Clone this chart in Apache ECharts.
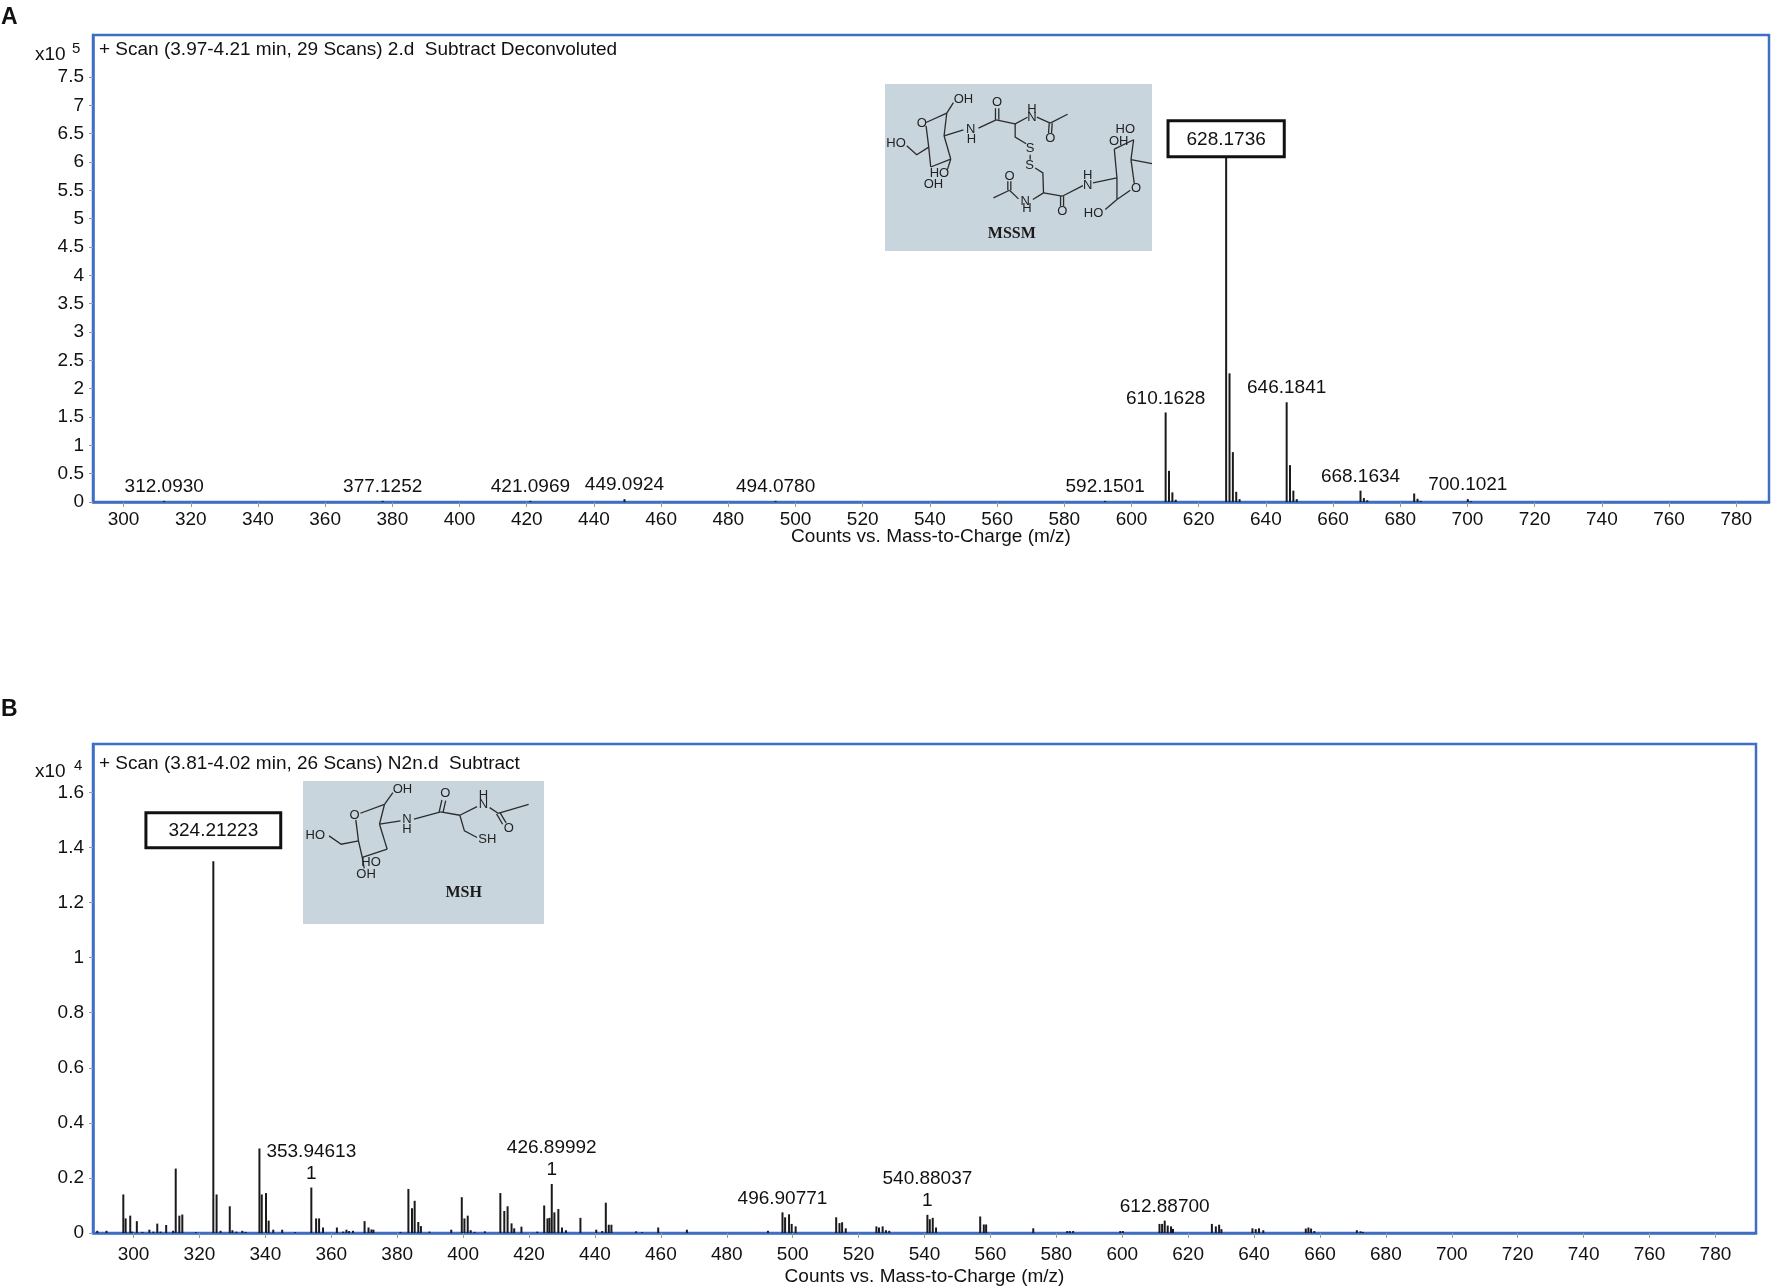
<!DOCTYPE html>
<html><head><meta charset="utf-8">
<script src="https://cdn.jsdelivr.net/npm/echarts@6.0.0/dist/echarts.min.js"></script>
<style>html,body{margin:0;padding:0;background:#fff}#c{width:1772px;height:1286px}</style>
</head><body><div id="c"></div>
<script>
// ---------- tick labels ----------
const xTicks = [300,320,340,360,380,400,420,440,460,480,500,520,540,560,580,600,620,640,660,680,700,720,740,760,780];
const yTicksA = [0,0.5,1,1.5,2,2.5,3,3.5,4,4.5,5,5.5,6,6.5,7,7.5];
const yTicksB = [0,0.2,0.4,0.6,0.8,1,1.2,1.4,1.6];

// ---------- panel A: MSSM (counts x10^5) ----------
const mzA  = [312.0930,377.1252,421.0969,449.0924,494.0780,592.1501,610.1628,611.166,612.168,613.17,628.1736,629.177,630.172,631.175,632.17,646.1841,647.187,648.18,649.18,668.1634,669.166,670.17,684.14,685.14,686.1,700.1021,701.1];
const intA = [0.02,0.02,0.02,0.05,0.02,0.02,1.58,0.55,0.17,0.04,6.12,2.27,0.88,0.18,0.05,1.76,0.65,0.2,0.05,0.2,0.07,0.03,0.15,0.057,0.02,0.05,0.015];
const labeledA = [312.0930,377.1252,421.0969,449.0924,494.0780,592.1501,610.1628,646.1841,668.1634,700.1021];
const boxedA = 628.1736;

// ---------- panel B: MSH (counts x10^4) ----------
const mzB  = [289.0,291.8,296.9,297.6,299.0,299.6,301.0,302.7,304.8,306.0,307.2,308.2,309.9,312.0,312.8,313.9,314.8,318.9,324.21223,325.2,326.4,329.2,330.0,331.2,333.0,334.0,338.2,338.9,340.2,341.0,342.4,345.1,349.0,353.94613,355.4,356.3,357.5,361.7,363.6,364.6,365.4,366.6,370.1,371.3,372.2,372.8,381.0,383.4,384.5,385.3,386.4,387.2,389.8,396.4,399.6,400.4,401.4,402.3,403.5,406.6,411.3,412.5,413.5,414.7,415.5,417.7,422.5,424.6,425.6,426.2,426.89992,427.7,428.9,430.0,431.2,435.6,440.4,442.2,443.3,444.2,445.0,452.5,454.3,459.2,467.9,492.5,496.90771,497.7,498.9,499.7,500.9,513.2,514.2,515.0,516.1,525.4,526.2,527.3,528.3,529.3,540.88037,541.6,542.5,543.5,556.9,558.0,558.7,573.0,583.3,584.1,585.1,599.4,600.2,611.3,612.1,612.887,613.8,614.8,615.4,627.2,628.4,629.4,630.1,639.5,640.5,641.5,642.8,655.7,656.5,657.3,658.3,671.2,672.3,673.0];
const intB = [0.008,0.008,0.14,0.053,0.063,0.005,0.043,0.004,0.012,0.005,0.034,0.005,0.029,0.008,0.234,0.063,0.067,0.003,1.35,0.14,0.008,0.097,0.01,0.005,0.008,0.004,0.307,0.14,0.145,0.045,0.012,0.012,0.003,0.165,0.053,0.053,0.02,0.02,0.005,0.012,0.007,0.008,0.043,0.02,0.013,0.012,0.004,0.16,0.09,0.117,0.04,0.025,0.005,0.012,0.13,0.053,0.063,0.01,0.004,0.006,0.145,0.08,0.097,0.035,0.017,0.023,0.005,0.1,0.053,0.055,0.178,0.075,0.087,0.02,0.01,0.055,0.012,0.007,0.11,0.03,0.03,0.006,0.003,0.02,0.012,0.008,0.075,0.057,0.068,0.033,0.024,0.057,0.036,0.039,0.017,0.024,0.02,0.024,0.01,0.008,0.066,0.05,0.055,0.02,0.06,0.031,0.031,0.017,0.007,0.007,0.007,0.007,0.007,0.033,0.033,0.045,0.027,0.024,0.015,0.033,0.024,0.03,0.014,0.017,0.014,0.017,0.01,0.016,0.02,0.016,0.007,0.01,0.006,0.004];
const labeledB = [353.94613,426.89992,496.90771,540.88037,612.88700];
const chargedB = [353.94613,426.89992,540.88037];
const boxedB = 324.21223;

// ---------- texts ----------
const titleA = '+ Scan (3.97-4.21 min, 29 Scans) 2.d  Subtract Deconvoluted';
const titleB = '+ Scan (3.81-4.02 min, 26 Scans) N2n.d  Subtract';
const xName = 'Counts vs. Mass-to-Charge (m/z)';

const FONT = 'Liberation Sans, Arial, Helvetica, sans-serif';
const BLUE = '#3f6fc4';
const TXT = '#111';

function near(a, b) { return Math.abs(a - b) < 1e-6; }

function buildData(mz, it, labeled, boxed, digits, charged, boxDist, boxPad) {
  return mz.map((m, i) => {
    const item = { value: [m, it[i]] };
    if (near(m, boxed)) {
      item.label = { show: true, position: 'top', distance: boxDist, formatter: m.toFixed(digits),
        fontSize: 19, fontFamily: FONT, color: TXT, backgroundColor: '#fff',
        borderColor: '#111', borderWidth: 3, padding: boxPad };
    } else if (labeled.some(v => near(v, m))) {
      const ch = charged.some(v => near(v, m));
      item.label = { show: true, position: 'top', distance: 3,
        formatter: m.toFixed(digits) + (ch ? '\n1' : ''),
        fontSize: 19, lineHeight: 22, fontFamily: FONT, color: TXT };
    }
    return item;
  });
}

const dataA = buildData(mzA, intA, labeledA, boxedA, 4, [], 0, [8, 17, 6, 17]);
const dataB = buildData(mzB, intB, labeledB, boxedB, 5, chargedB, 15, [7, 21, 6, 21]);

function xAxis(gi, min, max, margin, gap) {
  return { gridIndex: gi, type: 'value', min: min, max: max,
    axisLine: { show: true, lineStyle: { color: BLUE, width: 2.5 } },
    splitLine: { show: false },
    axisTick: { show: true, customValues: xTicks, length: 5, lineStyle: { color: '#999' } },
    axisLabel: { customValues: xTicks, fontSize: 19, fontFamily: FONT, color: TXT, margin: margin },
    name: xName, nameLocation: 'middle', nameGap: gap, nameMoveOverlap: false,
    nameTextStyle: { fontSize: 19, fontFamily: FONT, color: TXT } };
}
function yAxis(gi, max, ticks) {
  return { gridIndex: gi, type: 'value', min: 0, max: max,
    axisLine: { show: true, lineStyle: { color: BLUE, width: 2.5 } },
    splitLine: { show: false },
    axisTick: { show: true, customValues: ticks, length: 4, lineStyle: { color: '#999' } },
    axisLabel: { customValues: ticks, formatter: v => String(v), fontSize: 19, fontFamily: FONT, color: TXT, margin: 9 } };
}

// ---------- structure insets (decorative drawings) ----------
function molecule(x, y, w, h, ref, lines, atoms, name, nameAt, fs) {
  const [rx0, ry0, rw, rh] = ref;
  const tx = zx => (zx - rx0) / rw * w;
  const ty = zy => (zy - ry0) / rh * h;
  const ch = [{ type: 'rect', shape: { x: 0, y: 0, width: w, height: h }, style: { fill: '#c9d5dd' } }];
  lines.forEach(pl => ch.push({ type: 'polyline', shape: { points: pl.map(p => [tx(p[0]), ty(p[1])]) },
    style: { stroke: '#2b2b2b', lineWidth: 1.3, fill: null } }));
  atoms.forEach(a => ch.push({ type: 'text', style: { text: a[0], x: tx(a[1]), y: ty(a[2]),
    textAlign: 'center', textVerticalAlign: 'middle', font: fs + 'px ' + FONT, fill: '#222' } }));
  ch.push({ type: 'text', style: { text: name, x: tx(nameAt[0]), y: ty(nameAt[1]), textAlign: 'center',
    textVerticalAlign: 'middle', font: 'bold 16px Liberation Serif, DejaVu Serif, serif', fill: '#1a1a1a' } });
  return { type: 'group', x: x, y: y, z: 50, children: ch };
}

const mssmLines = [
 [[228,188],[290,160]],[[290,160],[310,128]],[[290,160],[282,228]],[[282,228],[302,298]],[[302,298],[292,330]],
 [[282,228],[340,210]],[[228,198],[236,262]],[[236,262],[242,322]],[[242,322],[302,298]],
 [[236,262],[200,285],[170,258]],[[385,205],[438,180]],[[436,180],[436,145]],[[446,180],[446,145]],
 [[438,180],[495,192]],[[495,192],[532,172]],[[560,172],[600,190]],[[597,190],[595,220]],[[606,190],[604,220]],
 [[600,190],[652,163]],[[495,192],[495,232],[528,252]],[[540,285],[540,300]],[[555,325],[578,340],[580,400]],
 [[580,400],[548,420]],[[505,418],[478,392]],[[473,392],[473,365]],[[482,392],[482,365]],[[478,392],[430,415]],
 [[580,400],[636,410]],[[631,410],[631,440]],[[640,410],[640,440]],[[636,410],[698,378]],[[728,370],[800,355]],
 [[800,355],[792,268]],[[792,268],[850,240]],[[850,240],[842,300]],[[842,300],[852,372]],[[840,392],[800,420]],
 [[800,420],[800,355]],[[800,420],[765,450]],[[842,300],[905,312]]
];
const mssmAtoms = [['OH',340,118],['O',215,192],['HO',138,250],['HO',268,340],['OH',250,375],['N',362,208],['H',364,238],
 ['O',441,128],['H',545,148],['N',545,172],['O',600,235],['S',540,265],['S',538,318],['O',478,350],['N',525,425],['H',530,448],
 ['O',636,455],['H',712,348],['N',712,376],['HO',825,210],['OH',805,245],['O',857,388],['HO',730,462]];

const mshLines = [
 [[940,372],[1003,345]],[[1003,345],[1025,310]],[[1003,345],[990,405]],[[990,405],[1010,480]],[[1010,480],[945,505]],
 [[945,505],[935,455]],[[935,455],[928,392]],[[935,455],[890,465],[858,440]],[[945,505],[950,538]],
 [[990,405],[1045,395]],[[1080,390],[1150,368]],[[1146,368],[1153,332]],[[1156,370],[1163,334]],
 [[1150,368],[1200,378]],[[1200,378],[1245,352]],[[1278,355],[1300,372]],[[1300,372],[1380,345]],
 [[1296,374],[1312,405]],[[1305,370],[1321,401]],[[1200,378],[1212,425],[1245,445]]
];
const mshAtoms = [['OH',1050,300],['O',925,378],['HO',822,438],['HO',968,520],['OH',955,556],['N',1062,392],['H',1062,420],
 ['O',1162,312],['H',1262,318],['N',1262,345],['O',1328,418],['SH',1272,452]];

const graphics = [
  { type: 'text', style: { text: 'A', x: 1, y: 18, textVerticalAlign: 'middle', font: 'bold 23px ' + FONT, fill: '#111' } },
  { type: 'text', style: { text: 'B', x: 1, y: 710, textVerticalAlign: 'middle', font: 'bold 23px ' + FONT, fill: '#111' } },
  { type: 'text', style: { text: 'x10', x: 35, y: 55, textVerticalAlign: 'middle', font: '19px ' + FONT, fill: TXT } },
  { type: 'text', style: { text: '5', x: 72, y: 49, textVerticalAlign: 'middle', font: '15px ' + FONT, fill: TXT } },
  { type: 'text', style: { text: 'x10', x: 35, y: 772, textVerticalAlign: 'middle', font: '19px ' + FONT, fill: TXT } },
  { type: 'text', style: { text: '4', x: 74, y: 766, textVerticalAlign: 'middle', font: '15px ' + FONT, fill: TXT } },
  { type: 'text', z: 60, style: { text: titleA, x: 99, y: 50, textVerticalAlign: 'middle', font: '19px ' + FONT, fill: TXT } },
  { type: 'text', z: 60, style: { text: titleB, x: 99, y: 764, textVerticalAlign: 'middle', font: '19px ' + FONT, fill: TXT } },
  molecule(885, 84, 267, 167, [105, 72, 800, 503], mssmLines, mssmAtoms, 'MSSM', [485, 522], 13),
  molecule(303, 781, 241, 143, [790, 275, 630, 430], mshLines, mshAtoms, 'MSH', [1210, 612], 13)
];

const chart = echarts.init(document.getElementById('c'), null, { renderer: 'canvas' });
chart.setOption({
  animation: false,
  backgroundColor: '#fff',
  grid: [
    { left: 93, top: 35, width: 1676, height: 467, show: true, borderColor: BLUE, borderWidth: 2.5, backgroundColor: 'transparent', containLabel: false, outerBoundsMode: 'none' },
    { left: 93, top: 744, width: 1663, height: 489, show: true, borderColor: BLUE, borderWidth: 2.5, backgroundColor: 'transparent', containLabel: false, outerBoundsMode: 'none' }
  ],
  xAxis: [ xAxis(0, 290.9, 789.75, 8, 25), xAxis(1, 287.7, 792.3, 12, 34) ],
  yAxis: [ yAxis(0, 8.24, yTicksA), yAxis(1, 1.776, yTicksB) ],
  series: [
    { type: 'bar', xAxisIndex: 0, yAxisIndex: 0, barWidth: 2, data: dataA, itemStyle: { color: '#1a1a1a' } },
    { type: 'bar', xAxisIndex: 1, yAxisIndex: 1, barWidth: 2, data: dataB, itemStyle: { color: '#1a1a1a' } }
  ],
  graphic: graphics
});
</script></body></html>
